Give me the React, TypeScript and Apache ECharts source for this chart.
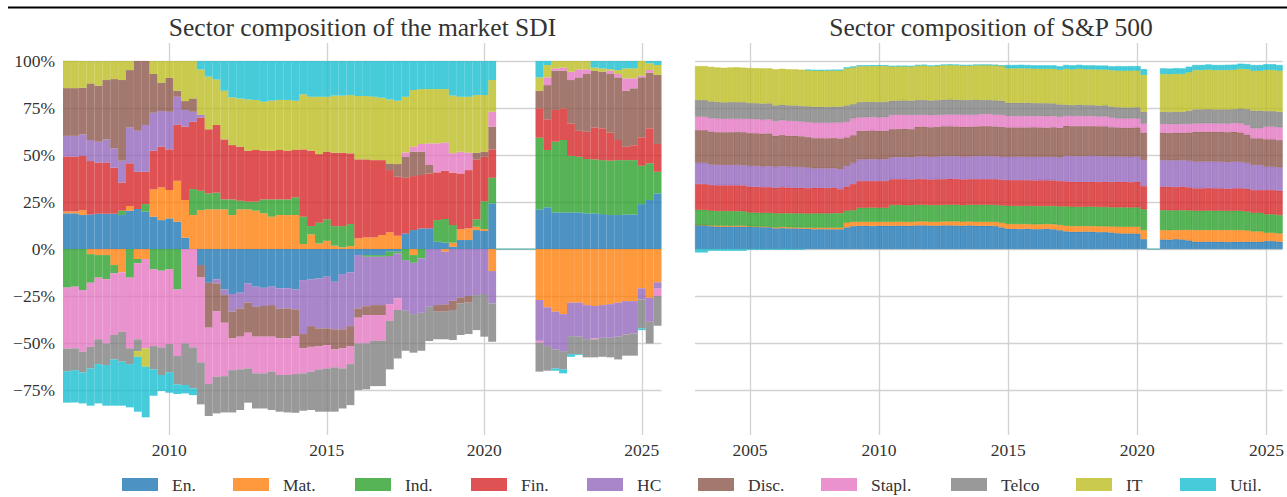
import React, { useEffect, useRef } from "react";
import * as echarts from "echarts";

const SECTORS = ["En.", "Mat.", "Ind.", "Fin.", "HC", "Disc.", "Stapl.", "Telco", "IT", "Util."];
const COLORS = ["#1f77b4", "#ff7f0e", "#2ca02c", "#d62728", "#9467bd", "#8c564b", "#e377c2", "#7f7f7f", "#bcbd22", "#17becf"];

const SDI_FIRST_QUARTER = 2006.75;
const SP_FIRST_QUARTER = 2003.0;
const QUARTER = 0.25;

const Y_TICKS = [-75, -50, -25, 0, 25, 50, 75, 100];
const SDI_YEAR_TICKS = [2010, 2015, 2020, 2025];
const SP_YEAR_TICKS = [2005, 2010, 2015, 2020, 2025];

const TITLES = ["Sector composition of the market SDI", "Sector composition of S&P 500"];

// ---- market SDI (percent of gross, signed), quarterly, gap = null ----
const G = [null, null, null, null, null];
const sdiEn = [19, 19, 18.1, 18.4, 18.8, 18.8, 18.8, 18.1, 20.4, 21.3, 19.9, 17.2, 15.4, 16.3, 14.5, 6.0, 0, -8.5, -17.9, -16.1, -21.5, -23.9, -23.2, -18.3, -20, -20.6, -20, -20.9, -20.9, -21.5, -16.5, -16.1, -15.6, -14.7, -17.4, -13.3, -12.4, -3.2, -3.2, -3.2, -3.2, -1.4, -1.4, 8.3, 10.1, 11, 11, 3.9, 3.4, 1.2, 4.8, 4.8, 10.1, 9.6, 24.3, ...G, 21.1, 22.2, 19.5, 19.5, 19.5, 19.5, 19, 19, 18.6, 18.1, 18.1, 18.4, 18.4, 23.9, 26.1, 29.6];
const sdiMat = [1, 1, 2.6, -2.7, -3.2, -3.2, -8.5, -12.4, 2.5, -5.3, -5.3, 14.5, 17.4, 15.1, 21.8, 20.1, 18.1, 20.7, 21.1, 21.1, 21.1, 18.1, 21.1, 21.1, 20.4, 19, 17.2, 18.1, 18.1, 18.1, 2.7, 7.8, 3, 4.4, 1.8, 0.9, 1.6, 5.7, 6.2, 6.2, 7.4, 8.9, 7.1, 0, -3.2, 0, 0, 0, -1.4, 2.2, 5.7, 6.2, 1.8, 1, -11.7, ...G, -27.1, -31, -33.3, -34.6, -28.5, -28.5, -29.8, -30.3, -29.8, -29.3, -28.5, -27.7, -27.7, -20.9, -25.9, -17.7];
const sdiInd = [-20.5, -20, -21.8, -15.2, -12, -12.8, -4.4, 2.3, -15.2, -2.3, 4, -10.8, -11.5, -10.8, -21.5, 0, 13.8, 10.3, 8.5, 8.9, 5.3, 8.3, 4.6, 4.1, 4.8, 7.4, 9.2, 8.3, 8.3, 9.4, 14.5, 4.4, 11, 11.4, 10.4, 11.3, 11.7, 0, -0.9, -0.9, -0.9, -2.3, -0.9, -5.9, -4.1, -5, 0, 11.5, 12.6, 9.4, 0, 0, 3.9, 14.8, 13.6, ...G, 38.1, 30.5, 37.6, 38.5, 30.1, 29.6, 28.9, 28.7, 28.7, 28.9, 29.2, 28.9, 28.9, 20.4, 19.5, 11.5];
const sdiFin = [29.2, 29.2, 28.8, 28.4, 27.1, 27.3, 24.5, 14.9, 22.7, 19.8, 17.2, 20.6, 21.6, 21.6, 29.8, 39, 35.8, 38.9, 34.1, 36, 31.9, 28.9, 28.7, 27.1, 27.5, 25.9, 25.9, 26.3, 25.9, 25.2, 35.8, 40.1, 36.5, 36, 39, 39, 37.6, 42, 41.5, 41.1, 39.9, 33.1, 31.4, 29.6, 28.7, 28.4, 29.2, 25.4, 25.7, 27.8, 29.7, 31, 31.9, 23.7, 15.1, ...G, 15.6, 16.3, 16.9, 16.8, 17.2, 13.8, 14.5, 17, 16.9, 14.9, 10.7, 7.1, 7.9, 15.1, 18.6, 14.8];
const sdiHC = [11, 11, 11.5, 11.2, 11.2, 12.2, 10.3, 11.7, 19.1, 21.8, 24.9, 20.2, 19, 20, 14.9, 8.9, 5.3, 1.4, 0, -2.2, -3, -9.4, -8.4, -10.2, -10.7, -9.7, -9.8, -10.7, -10.7, -10.6, -28.7, -24.9, -26.6, -27.5, -25.3, -29.4, -28.6, -28.4, -26.3, -25.7, -25.7, -25.6, -23.9, -26.9, -27.3, -28.9, -30.7, -29.8, -28, -27.5, -25.7, -25, -24.5, -23.9, -17.2, ...G, -21.7, -20.6, -20.1, -19.7, -17.8, -18.1, -18.1, -17.2, -17.4, -17.9, -18.1, -17.7, -17.2, -5.9, -12.8, -3.3];
const sdiDisc = [25.4, 25.4, 24.8, 30.1, 29.8, 31.6, 36.8, 42.9, 30.5, 37.1, 34, 20.6, 15.1, 18.1, 3.2, 4.7, 7.1, -6.6, -23.9, -14.7, -14.7, -14.2, -15, -16, -15.9, -16.3, -16.8, -15.9, -15.9, -14.2, -7.6, -11, -9.4, -8.9, -10.7, -10.1, -10.6, -4.9, -4.7, -5.3, -5.3, 3.5, 6.7, 11.2, 13, 12.4, 4.5, -3.5, -3.9, -4.9, -3.2, -3.5, 3.5, 2.7, 12.1, ...G, 9.4, 18.2, 20.9, 20.1, 23.1, 28.4, 30.7, 30, 30.1, 31.2, 33.3, 29.8, 30.3, 31.9, 29.6, 36.7];
const sdiStapl = [-32.5, -32.8, -32.8, -34.1, -32.8, -34.2, -32.8, -31.6, -37.6, -40.4, -47.5, -40.8, -40.8, -39.7, -35.4, -50.2, -52.3, -45.2, -30, -34.9, -28.4, -16.9, -17.4, -19, -19.5, -19.5, -18.6, -19.5, -19.5, -20.2, -13.3, -13.2, -12.4, -12.4, -9.5, -10.7, -9.6, -13.7, -15.1, -13.7, -13.7, -8.9, -6.2, 2.3, 2.6, 4.1, 11.5, 15.4, 15, 10.4, 11.6, 9.2, 0, 0, 7.9, ...G, -1, 4.1, 1.2, 1.6, 4.4, 4.2, 2.5, -0.5, 0, 1.8, 1.8, 6.6, 5.3, 0.9, 1.4, -4];
const sdiTelco = [-12, -11.6, -11, -11.5, -13.2, -11.5, -13, -15.9, -8.4, -6.3, 0, -12.4, -14.7, -15.1, -15.1, -22.1, -21.8, -22.3, -17, -19.5, -19.3, -22.5, -21.6, -18.2, -18.7, -18.7, -20.4, -19.5, -19.9, -20.6, -19.9, -20.4, -22.5, -23, -23.6, -21.3, -21.8, -24.8, -24.4, -24.1, -24.1, -25.8, -25.8, -21.3, -20.5, -20.2, -18.2, -14.7, -14.7, -16, -16.8, -16.7, -18.6, -22.7, -20.4, ...G, -15.4, -13.1, -10.1, -9.7, -9.6, -9.3, -9.7, -9.6, -10.1, -10.4, -12.1, -11.3, -11.8, -15.4, -11.5, -15.8];
const sdiIT = [14.5, 14.5, 14.2, 11.9, 13.1, 10.1, 9.6, 10.1, 4.8, -3, -9.8, 6.9, 11.5, 8.9, 15.8, 21.3, 19.9, 24.2, 28, 24.2, 25.9, 25.4, 25.7, 27.3, 26.6, 26.1, 26.6, 26.6, 27, 26.2, 29.3, 28.7, 30.5, 29.2, 30.4, 30.4, 31, 33.7, 33.7, 33.7, 33.2, 34.1, 33.7, 29.6, 30.2, 29.2, 28.9, 28.9, 28.4, 30.6, 29.2, 29.8, 30.7, 30.1, 16.9, ...G, 7.1, 6.6, 3.9, 3.5, 5.7, 4.5, 4.4, 1.8, 1.8, 0.8, 2.1, 5.3, 5.3, 7.8, 3.6, 5.3];
const sdiUtil = [-16.7, -17.2, -16.5, -19.8, -20.9, -21.6, -24.6, -23.4, -23, -29.2, -26.9, -14, -8.5, -10.8, -5.1, -4.5, -3.6, 4.5, 8.3, 9.8, 15.8, 19.3, 19.9, 20.4, 20.7, 21.6, 21.1, 20.7, 20.7, 21.1, 17.7, 19, 19, 19, 18.4, 18.4, 18.1, 18.6, 18.6, 19, 19.5, 20.4, 21.1, 19, 15.4, 14.9, 14.9, 14.9, 14.9, 18.4, 19, 19, 18.1, 18.1, 10.1, ...G, 8.7, 2.1, -1.2, -2.1, -1.4, -0.5, 0, 3.5, 3.9, 4.3, 4.8, 3.9, 3.9, -0.9, 1.2, 2.1];

// ---- S&P 500 sector weights (percent), quarterly from 2003, gap = null ----
const N2 = [null, null];
const spEn = [12.8, 12.8, 12.2, 11.9, 11.9, 12.0, 11.9, 11.9, 11.9, 11.8, 11.7, 11.7, 11.0, 11.2, 11.0, 11.0, 10.9, 10.8, 10.5, 10.6, 10.5, 10.5, 10.5, 11.5, 12.2, 12.4, 12.4, 12.3, 12.4, 12.4, 12.4, 12.5, 12.4, 12.4, 12.6, 12.6, 12.5, 12.4, 12.6, 12.6, 12.5, 12.4, 12.6, 12.4, 12.4, 12.4, 12.3, 11.5, 10.8, 10.8, 10.7, 10.8, 10.6, 10.6, 10.8, 10.5, 10.0, 9.4, 9.2, 9.2, 9.3, 9.2, 9.0, 9.1, 8.8, 8.4, 8.3, 8.3, 8.2, 5.3, ...N2, 5.1, 5.0, 5.3, 5.1, 4.6, 3.9, 3.9, 4.0, 3.9, 3.9, 3.8, 3.9, 3.9, 3.9, 3.9, 3.9, 4.3, 4.3, 3.9];
const spMat = [0, 0, 0.4, 0.5, 0.5, 0.4, 0.5, 0.5, 0.2, 0.2, 0.3, 0.2, 0.5, 0.5, 0.6, 0.5, 0.5, 0.6, 0.8, 0.8, 0.8, 0.9, 0.9, 2.5, 2.3, 2.1, 2.1, 2.2, 2.1, 2.1, 2.1, 2.1, 2.1, 2.0, 2.1, 2.1, 2.0, 2.1, 2.1, 2.1, 2.2, 2.1, 2.1, 2.1, 2.1, 2.1, 2.2, 2.5, 2.5, 2.5, 2.6, 2.5, 2.5, 2.6, 2.5, 2.7, 2.8, 3.0, 3.0, 3.0, 2.9, 3.0, 3.1, 3.0, 3.2, 3.5, 3.6, 3.6, 3.7, 4.8, ...N2, 5.0, 5.0, 4.8, 5.0, 5.6, 6.2, 6.2, 6.1, 6.2, 6.2, 6.3, 6.2, 6.2, 6.0, 5.5, 5.5, 4.4, 4.4, 4.4];
const spInd = [8.1, 8.1, 7.8, 7.8, 7.9, 7.8, 7.8, 7.7, 7.4, 7.4, 7.3, 7.4, 7.5, 7.4, 7.5, 7.5, 7.6, 7.5, 7.7, 7.6, 7.7, 7.7, 7.7, 6.4, 6.2, 7.5, 7.5, 7.6, 7.5, 7.5, 8.9, 8.9, 8.8, 8.9, 8.9, 8.8, 8.9, 8.9, 8.8, 8.9, 8.9, 8.8, 8.9, 9.0, 9.1, 9.1, 9.0, 9.2, 9.7, 9.7, 9.6, 9.7, 9.8, 9.7, 9.6, 9.7, 9.9, 10.3, 10.3, 10.2, 10.3, 10.4, 10.3, 10.3, 10.2, 10.3, 10.3, 10.2, 10.3, 11.0, ...N2, 10.6, 10.6, 10.5, 10.6, 10.4, 10.3, 10.3, 10.4, 10.3, 10.3, 10.2, 10.3, 10.3, 10.1, 9.9, 9.9, 9.8, 9.8, 9.8];
const spFin = [13.7, 13.7, 13.7, 13.7, 13.6, 13.7, 13.7, 13.7, 13.7, 13.7, 13.6, 13.7, 13.6, 13.8, 13.6, 13.6, 13.6, 13.5, 13.6, 13.6, 13.5, 13.6, 12.7, 12.8, 13.9, 14.2, 14.2, 14.1, 14.2, 14.2, 13.7, 13.7, 13.8, 13.7, 13.7, 13.7, 13.6, 13.7, 13.7, 13.8, 13.7, 13.7, 13.6, 13.7, 13.6, 13.6, 13.7, 13.6, 13.7, 13.7, 13.8, 13.7, 13.6, 13.7, 13.7, 13.6, 13.5, 13.3, 13.3, 13.4, 13.3, 13.2, 13.3, 13.4, 13.5, 13.6, 13.6, 13.5, 13.6, 12.4, ...N2, 12.5, 12.5, 12.4, 12.5, 12.2, 11.9, 11.9, 12.0, 11.9, 11.9, 11.8, 11.9, 12.0, 12.1, 12.1, 12.1, 12.9, 12.9, 12.9];
const spHC = [11.3, 11.3, 10.9, 10.8, 10.8, 10.8, 10.9, 10.8, 11.1, 11.1, 11.0, 11.1, 11.2, 11.2, 11.1, 11.2, 11.0, 10.9, 10.3, 10.3, 10.4, 10.3, 10.7, 10.9, 11.3, 11.5, 11.5, 11.6, 11.5, 11.6, 11.7, 11.7, 11.8, 11.8, 12.0, 12.1, 12.1, 12.1, 12.2, 12.1, 12.1, 12.2, 12.1, 12.2, 12.3, 12.3, 12.2, 12.3, 12.4, 12.4, 12.5, 12.4, 12.6, 12.5, 12.4, 12.6, 12.5, 13.7, 13.7, 13.6, 13.7, 13.8, 13.7, 13.6, 13.5, 13.5, 13.4, 13.5, 13.5, 13.8, ...N2, 14.1, 14.1, 14.2, 14.1, 14.2, 14.2, 14.2, 14.1, 14.2, 14.2, 14.1, 14.2, 14.0, 13.8, 13.3, 13.3, 12.4, 12.4, 12.4];
const spDisc = [17.4, 17.4, 17.5, 17.5, 17.4, 17.5, 17.5, 17.6, 17.4, 17.4, 17.5, 17.4, 16.5, 16.6, 16.5, 16.5, 16.4, 16.3, 16.1, 16.1, 16.0, 16.1, 16.3, 15.3, 14.7, 15.2, 15.2, 15.3, 15.2, 15.1, 15.0, 15.0, 15.1, 15.0, 15.8, 15.8, 15.7, 15.8, 15.9, 15.8, 15.8, 15.9, 15.8, 15.8, 15.9, 15.9, 15.8, 15.9, 15.6, 15.6, 15.5, 15.6, 15.7, 15.6, 15.6, 15.7, 15.8, 15.9, 15.9, 16.0, 15.9, 15.8, 15.9, 15.9, 15.6, 15.4, 15.4, 15.5, 15.4, 14.6, ...N2, 14.6, 14.6, 14.7, 14.6, 15.0, 15.9, 15.9, 15.8, 15.9, 15.9, 16.0, 15.9, 15.6, 15.0, 14.2, 14.2, 14.6, 14.6, 14.6];
const spStapl = [7.1, 7.1, 7.1, 7.2, 7.1, 7.1, 7.0, 7.1, 7.5, 7.5, 7.4, 7.5, 7.8, 7.8, 7.9, 7.8, 7.8, 7.9, 8.2, 8.2, 8.3, 8.2, 8.5, 8.3, 8.9, 7.1, 7.2, 7.1, 7.1, 7.2, 7.5, 7.5, 7.4, 7.5, 6.3, 6.3, 6.4, 6.3, 6.2, 6.3, 6.3, 6.4, 6.3, 6.3, 6.4, 6.4, 6.3, 6.4, 6.0, 6.0, 6.1, 6.0, 5.9, 6.0, 6.0, 5.9, 5.8, 5.3, 5.3, 5.4, 5.3, 5.3, 5.2, 5.3, 5.1, 4.8, 4.8, 4.9, 4.8, 4.8, ...N2, 4.6, 4.6, 4.5, 4.6, 4.5, 4.4, 4.4, 4.5, 4.4, 4.4, 4.5, 4.6, 4.8, 5.0, 5.3, 5.3, 6.7, 6.7, 6.7];
const spTelco = [8.9, 8.9, 8.9, 8.9, 8.8, 8.9, 8.9, 8.8, 8.5, 8.5, 8.6, 8.5, 8.3, 8.3, 8.2, 8.3, 8.3, 8.4, 8.5, 8.5, 8.4, 8.5, 8.5, 8.7, 7.6, 8.2, 8.2, 8.1, 8.2, 8.2, 7.6, 7.6, 7.7, 7.6, 7.9, 7.9, 7.8, 7.9, 7.9, 8.0, 7.9, 7.8, 7.9, 7.9, 7.5, 7.5, 7.6, 7.5, 7.1, 7.1, 7.0, 7.1, 7.0, 6.9, 7.0, 6.8, 6.6, 5.9, 5.9, 6.0, 5.9, 5.9, 5.8, 5.9, 5.9, 5.9, 5.9, 5.8, 5.9, 6.3, ...N2, 6.5, 6.5, 6.6, 6.5, 7.0, 7.5, 7.5, 7.6, 7.5, 7.5, 7.6, 7.5, 8.0, 8.6, 9.4, 9.4, 8.3, 8.3, 8.3];
const spIT = [18.0, 18.0, 18.4, 18.3, 18.4, 18.4, 18.5, 18.4, 18.6, 18.6, 18.7, 18.6, 19.2, 19.1, 19.2, 19.2, 19.3, 19.2, 19.2, 19.2, 19.3, 19.2, 19.2, 19.7, 19.5, 19.1, 19.0, 19.1, 19.2, 19.1, 18.2, 18.2, 18.1, 18.2, 18.3, 18.4, 18.3, 18.3, 18.4, 18.3, 18.4, 18.3, 18.3, 18.4, 18.6, 18.6, 18.7, 18.6, 18.3, 18.3, 18.4, 18.3, 18.2, 18.3, 18.3, 18.4, 18.5, 19.0, 19.0, 19.1, 19.0, 19.0, 19.2, 19.0, 19.3, 19.5, 19.5, 19.6, 19.5, 19.6, ...N2, 20.1, 20.1, 20.2, 20.1, 20.5, 20.9, 20.9, 21.0, 20.9, 20.9, 21.0, 20.9, 21.1, 21.2, 21.3, 21.3, 21.9, 21.9, 21.9];
const spUtil = [-1.8, -1.8, -0.9, -0.9, -0.9, -0.9, -0.9, -0.9, -0.3, -0.3, -0.3, -0.3, -0.3, -0.3, -0.3, -0.3, -0.3, 0.3, 0.4, 0.4, 0.4, 0.4, 0.4, 0.5, 0.5, 0.4, 0.4, 0.4, 0.4, 0.4, 0.3, 0.3, 0.3, 0.3, 0.3, 0.3, 0.3, 0.3, 0.3, 0.3, 0.3, 0.3, 0.3, 0.3, 0.1, 0.1, 0.1, 0.1, 1.8, 1.8, 1.8, 1.8, 1.8, 1.8, 1.8, 1.8, 1.8, 2.1, 2.1, 2.1, 2.1, 2.1, 2.1, 2.1, 2.1, 2.4, 2.4, 2.4, 2.4, 3.1, ...N2, 3.0, 3.0, 3.0, 3.0, 3.0, 2.7, 2.7, 2.7, 2.7, 2.7, 2.7, 2.7, 2.7, 2.7, 3.0, 3.0, 3.0, 3.0, 3.0];

const SDI_SERIES = [sdiEn, sdiMat, sdiInd, sdiFin, sdiHC, sdiDisc, sdiStapl, sdiTelco, sdiIT, sdiUtil];
const SP_SERIES = [spEn, spMat, spInd, spFin, spHC, spDisc, spStapl, spTelco, spIT, spUtil];

const FONT = '"Liberation Serif", "DejaVu Serif", serif';
const TEXT_COLOR = "#333";
const GRID_COLOR = "#d2d2d2";

function rgba(hex: string, a: number) {
  const n = parseInt(hex.slice(1), 16);
  return `rgba(${(n >> 16) & 255},${(n >> 8) & 255},${n & 255},${a})`;
}

function quarterDates(first: number, n: number) {
  return Array.from({ length: n }, (_, i) => first + i * QUARTER);
}

function gapSegment(dates: number[], vals: (number | null)[]) {
  const first = vals.indexOf(null);
  let last = first;
  while (vals[last + 1] === null) last++;
  return [
    [dates[first - 1] + QUARTER / 2, 0],
    [dates[last + 1] - QUARTER / 2, 0],
  ];
}

const pctLabel = (v: number) => (v < 0 ? "\u2212" : "") + Math.abs(Math.round(v)) + "%";

export default function App() {
  const ref = useRef<HTMLDivElement>(null);

  useEffect(() => {
    if (!ref.current) return;
    const chart = echarts.init(ref.current, null, { renderer: "svg" });

    const sdiDates = quarterDates(SDI_FIRST_QUARTER, sdiEn.length);
    const spDates = quarterDates(SP_FIRST_QUARTER, spEn.length);

    const splitLine = { show: true, lineStyle: { color: GRID_COLOR, width: 1.3 } };
    const labelFont = { fontFamily: FONT, fontSize: 17.5, color: TEXT_COLOR };

    const series: any[] = [];
    SECTORS.forEach((name, s) => {
      series.push({
        type: "bar",
        name,
        xAxisIndex: 0,
        yAxisIndex: 0,
        stack: "sdi",
        barWidth: "100%",
        data: SDI_SERIES[s],
        itemStyle: { color: rgba(COLORS[s], 0.8) },
      });
      series.push({
        type: "bar",
        name,
        xAxisIndex: 2,
        yAxisIndex: 1,
        stack: "sp",
        barWidth: "100%",
        data: SP_SERIES[s],
        itemStyle: { color: rgba(COLORS[s], 0.8), borderColor: rgba(COLORS[s], 0.9), borderWidth: 0.5 },
      });
    });
    series.push({
      type: "line",
      xAxisIndex: 1,
      yAxisIndex: 0,
      data: gapSegment(sdiDates, sdiEn),
      symbol: "none",
      lineStyle: { color: "#3aa99f", width: 1 },
      z: 5,
    });
    series.push({
      type: "line",
      xAxisIndex: 3,
      yAxisIndex: 1,
      data: gapSegment(spDates, spEn),
      symbol: "none",
      lineStyle: { color: "#3aa99f", width: 1 },
      z: 5,
    });

    const legendX = [122, 233, 355, 471, 587, 698, 821, 951, 1076, 1180];
    const graphic: any[] = [
      { type: "rect", shape: { x: 8, y: 6.5, width: 1280, height: 2 }, style: { fill: "#000" } },
      {
        type: "text",
        x: 362.5,
        y: 27,
        style: { text: TITLES[0], font: `25.5px ${FONT}`, fill: TEXT_COLOR, textAlign: "center", textVerticalAlign: "middle", align: "center", verticalAlign: "middle" },
      },
      {
        type: "text",
        x: 991,
        y: 27,
        style: { text: TITLES[1], font: `25.5px ${FONT}`, fill: TEXT_COLOR, textAlign: "center", textVerticalAlign: "middle", align: "center", verticalAlign: "middle" },
      },
    ];
    SECTORS.forEach((name, s) => {
      graphic.push({ type: "rect", shape: { x: legendX[s], y: 478, width: 36, height: 13 }, style: { fill: rgba(COLORS[s], 0.8) } });
      graphic.push({
        type: "text",
        x: legendX[s] + 50,
        y: 484.5,
        style: { text: name, font: `17.5px ${FONT}`, fill: TEXT_COLOR, textAlign: "left", textVerticalAlign: "middle", align: "left", verticalAlign: "middle" },
      });
    });

    const xCat = (gridIndex: number, dates: number[]) => ({
      type: "category",
      gridIndex,
      position: "top",
      data: dates.map((d) => d.toFixed(2)),
      boundaryGap: true,
      show: false,
    });
    const xVal = (gridIndex: number, min: number, max: number, ticks: number[]) => ({
      type: "value",
      gridIndex,
      position: "bottom",
      min,
      max,
      axisLine: { show: false },
      axisTick: { show: false, customValues: ticks },
      axisLabel: { ...labelFont, customValues: ticks, margin: 6, formatter: (v: number) => String(v) },
      splitLine,
    });
    const yBase = (gridIndex: number, showLabel: boolean) => ({
      type: "value",
      gridIndex,
      min: -98.9,
      max: 109.6,
      axisLine: { show: false },
      axisTick: { show: false, customValues: Y_TICKS },
      axisLabel: { show: showLabel, ...labelFont, customValues: Y_TICKS, margin: 8, formatter: pctLabel },
      splitLine,
    });

    const sdiMin = sdiDates[0] - QUARTER / 2;
    const sdiMax = sdiDates[sdiDates.length - 1] + QUARTER / 2;
    const spMin = spDates[0] - QUARTER / 2;
    const spMax = spDates[spDates.length - 1] + QUARTER / 2;

    chart.setOption({
      animation: false,
      backgroundColor: "#fff",
      grid: [
        { left: 63, top: 43, width: 598.5, height: 392 },
        { left: 695, top: 43, width: 591.5, height: 392 },
      ],
      xAxis: [
        xCat(0, sdiDates),
        xVal(0, sdiMin, sdiMax, SDI_YEAR_TICKS),
        xCat(1, spDates),
        xVal(1, spMin, spMax, SP_YEAR_TICKS),
      ],
      yAxis: [yBase(0, true), yBase(1, false)],
      series,
      graphic,
    });

    return () => chart.dispose();
  }, []);

  return <div ref={ref} style={{ position: "fixed", left: 0, top: 0, width: 1287, height: 497 }} />;
}
